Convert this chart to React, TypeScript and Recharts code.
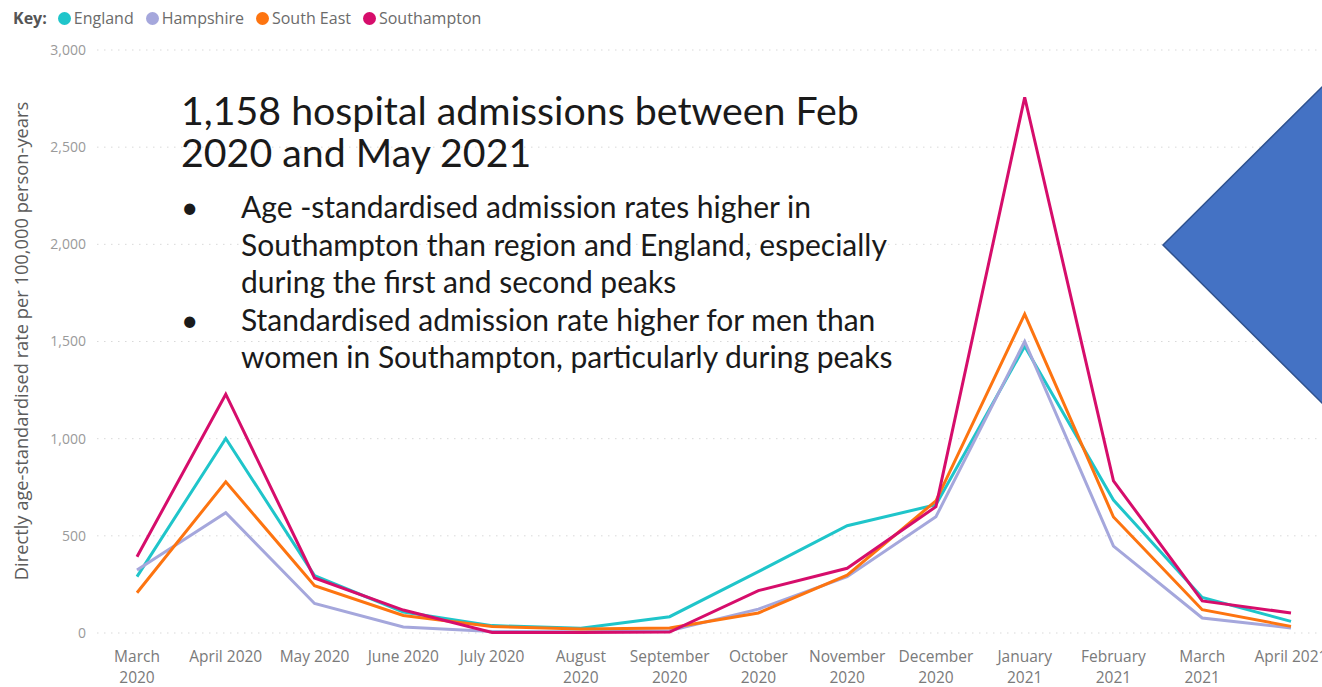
import React from 'react';
import { LineChart, Line, XAxis, YAxis, CartesianGrid, Legend, Label } from 'recharts';

// months shown on the x axis
const months = [
    'March 2020', 'April 2020', 'May 2020', 'June 2020', 'July 2020', 'August 2020', 'September 2020',
    'October 2020', 'November 2020', 'December 2020', 'January 2021', 'February 2021', 'March 2021', 'April 2021',
];

// how each tick label wraps
const tickLines = [
    ['March', '2020'], ['April 2020'], ['May 2020'], ['June 2020'], ['July 2020'], ['August', '2020'], ['September', '2020'],
    ['October', '2020'], ['November', '2020'], ['December', '2020'], ['January', '2021'], ['February', '2021'], ['March', '2021'], ['April 2021'],
];

// directly age-standardised admission rate per 100,000 person-years
const england = [290, 1001, 295, 108, 38, 24, 84, 316, 552, 660, 1475, 684, 183, 60];
const hampshire = [324, 619, 152, 31, 8, 6, 12, 123, 290, 598, 1500, 447, 77, 26];
const southEast = [207, 778, 243, 90, 33, 20, 26, 103, 298, 680, 1641, 597, 120, 34];
const southampton = [392, 1229, 283, 118, 3, 3, 5, 218, 333, 650, 2757, 783, 165, 103];

const yTicks = [0, 500, 1000, 1500, 2000, 2500, 3000];

const series = [
    { key: 'england', name: 'England', color: '#1fc5ca' },
    { key: 'hampshire', name: 'Hampshire', color: '#a5a7dc' },
    { key: 'southEast', name: 'South East', color: '#fd7410' },
    { key: 'southampton', name: 'Southampton', color: '#d60d6b' },
];

const chartData = months.map((m, i) => ({
    month: m,
    england: england[i],
    hampshire: hampshire[i],
    southEast: southEast[i],
    southampton: southampton[i],
}));

const axisFont = '"Open Sans", "Noto Sans", sans-serif';

const MonthTick = (props: any) => {
    const { x, y, index } = props;
    const lines = tickLines[index] || [];
    return (
        <text x={x} y={y} textAnchor="middle" fill="#7a7a7a" fontSize={15.5} fontFamily={axisFont}>
            {lines.map((l: string, i: number) => (
                <tspan key={i} x={x} dy={i === 0 ? 21 : 21}>{l}</tspan>
            ))}
        </text>
    );
};

const KeyLegend = () => (
    <div style={{ display: 'flex', alignItems: 'center', fontFamily: axisFont, fontSize: 16, lineHeight: '20px', color: '#6b6b6b', whiteSpace: 'nowrap' }}>
        <span style={{ fontWeight: 700, color: '#555', marginLeft: 5, marginRight: 11 }}>Key:</span>
        {series.map(s => (
            <span key={s.key} style={{ display: 'flex', alignItems: 'center', marginRight: 12 }}>
                <span style={{ width: 13, height: 13, borderRadius: 7, background: s.color, marginRight: 3 }} />
                {s.name}
            </span>
        ))}
    </div>
);

const YTitle = () => (
    <text x={23} y={341} transform="rotate(-90 23 341)" textAnchor="middle" dominantBaseline="middle" fill="#5c5c5c" fontSize={18.3} fontFamily={axisFont}>
        Directly age-standardised rate per 100,000 person-years
    </text>
);

export default function App() {
    return (
        <div style={{ position: 'absolute', left: 0, top: 0, width: 1322, height: 687, background: '#fff', overflow: 'hidden' }}>
            <LineChart width={1322} height={687} data={chartData} margin={{ top: 50, right: 0, left: 0, bottom: 0 }}>
                <CartesianGrid vertical={false} stroke="#d9d9d9" strokeDasharray="1.5 5.5" />
                <XAxis
                    dataKey="month"
                    interval={0}
                    height={54}
                    axisLine={false}
                    tickLine={false}
                    tick={<MonthTick />}
                    padding={{ left: 40, right: 31 }}
                />
                <YAxis
                    width={97}
                    domain={[0, 3000]}
                    ticks={yTicks}
                    axisLine={false}
                    tickLine={false}
                    tickSize={0}
                    tickMargin={11}
                    tick={{ fill: '#9a9a9a', fontSize: 14, fontFamily: axisFont }}
                    tickFormatter={(v: number) => v.toLocaleString('en-GB')}
                >
                    <Label content={<YTitle />} />
                </YAxis>
                <Legend
                    verticalAlign="middle"
                    align="center"
                    layout="horizontal"
                    wrapperStyle={{ top: 8, left: 8, width: 'auto' }}
                    content={<KeyLegend />}
                />
                {series.map(s => (
                    <Line
                        key={s.key}
                        type="linear"
                        dataKey={s.key}
                        name={s.name}
                        stroke={s.color}
                        strokeWidth={3}
                        dot={false}
                        activeDot={false}
                        isAnimationActive={false}
                    />
                ))}
            </LineChart>

            {/* text box laid over the chart */}
            <div style={{ position: 'absolute', left: 181, top: 89, fontFamily: 'Lato, Carlito, sans-serif', color: '#1a1a1a' }}>
                <div style={{ fontSize: 39.3, lineHeight: '42px' }}>
                    1,158 hospital admissions between Feb<br />2020 and May 2021
                </div>
                <div style={{ fontSize: 30, lineHeight: '37.5px', marginTop: 15 }}>
                    <div style={{ position: 'relative', paddingLeft: 60 }}>
                        <span style={{ position: 'absolute', left: 0 }}>•</span>
                        Age -standardised admission rates higher in<br />
                        Southampton than region and England, especially<br />
                        during the first and second peaks
                    </div>
                    <div style={{ position: 'relative', paddingLeft: 60 }}>
                        <span style={{ position: 'absolute', left: 0 }}>•</span>
                        Standardised admission rate higher for men than<br />
                        women in Southampton, particularly during peaks
                    </div>
                </div>
            </div>

            {/* blue arrow shape on the right edge */}
            <svg width={1322} height={687} style={{ position: 'absolute', left: 0, top: 0, pointerEvents: 'none' }}>
                <polygon points="1163,245 1324,85 1324,405" fill="#4472c4" stroke="#2f528f" strokeWidth={1.5} />
            </svg>
        </div>
    );
}
